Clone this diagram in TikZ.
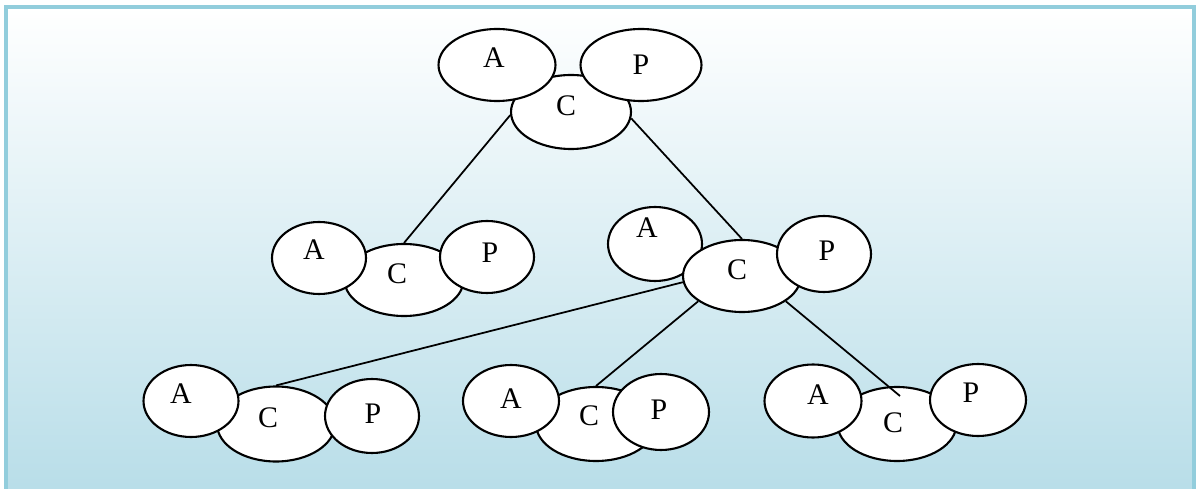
\documentclass[tikz,border=0pt]{standalone}
\usepackage{fontspec}
\setmainfont{Liberation Serif}
\usepackage{tikz}
\usetikzlibrary{shapes}
\definecolor{bordblue}{RGB}{146,205,220}
\definecolor{botblue}{RGB}{183,221,232}
\tikzset{
  ov_e/.style 2 args = {ellipse, draw=black, fill=white, line width=1.2pt,
    inner sep=0pt, minimum width=#1cm, minimum height=#2cm},% ellipse blanche
  ov_t/.style = {inner sep=0pt, font=\fontsize{17}{20}\selectfont},% lettre
  ov_l/.style = {line width=1pt}% trait
}

\begin{document}
\begin{tikzpicture}[x=0.02cm,y=-0.02cm]
\useasboundingbox (0,0) rectangle (1196,489);
\shade[top color=white, bottom color=botblue] (6,7) rectangle (1194,500);
\draw[bordblue, line width=2.2pt] (6,7) rectangle (1194,500);

% haut
\node [ov_e={2.40}{1.48}] (tC) at (571,112) {};
\node [ov_e={2.34}{1.44}] (tA) at (497,65) {};
\node [ov_e={2.42}{1.44}] (tP) at (641,65) {};
\node [ov_t] (tAt) at (494,58) {A};
\node [ov_t] (tCt) at (566,106) {C};
\node [ov_t] (tPt) at (641,65) {P};

% milieu gauche
\node [ov_e={2.38}{1.44}] (mlC) at (404,280) {};
\node [ov_e={1.88}{1.44}] (mlA) at (319,258) {};
\node [ov_e={1.88}{1.44}] (mlP) at (487,257) {};
\node [ov_t] (mlAt) at (314,250) {A};
\node [ov_t] (mlCt) at (397,274) {C};
\node [ov_t] (mlPt) at (490,253) {P};

% milieu droit
\node [ov_e={1.88}{1.48}] (mrA) at (655,244) {};
\node [ov_e={2.36}{1.44}] (mrC) at (742,276) {};
\node [ov_e={1.88}{1.52}] (mrP) at (824,254) {};
\node [ov_t] (mrAt) at (647,228) {A};
\node [ov_t] (mrCt) at (737,270) {C};
\node [ov_t] (mrPt) at (827,251) {P};

% bas gauche
\node [ov_e={2.36}{1.50}] (blC) at (276,424) {};
\node [ov_e={1.90}{1.44}] (blA) at (191,401) {};
\node [ov_e={1.88}{1.48}] (blP) at (372,416) {};
\node [ov_t] (blAt) at (181,394) {A};
\node [ov_t] (blCt) at (268,418) {C};
\node [ov_t] (blPt) at (373,414) {P};

% bas milieu
\node [ov_e={2.40}{1.48}] (bmC) at (596,424) {};
\node [ov_e={1.92}{1.44}] (bmA) at (511,401) {};
\node [ov_e={1.92}{1.52}] (bmP) at (661,412) {};
\node [ov_t] (bmAt) at (511,399) {A};
\node [ov_t] (bmCt) at (589,416) {C};
\node [ov_t] (bmPt) at (659,410) {P};

% bas droit
\node [ov_e={2.38}{1.48}] (brC) at (897,424) {};
\node [ov_e={1.94}{1.46}] (brA) at (813,401) {};
\node [ov_e={1.92}{1.44}] (brP) at (978,400) {};
\node [ov_t] (brAt) at (818,395) {A};
\node [ov_t] (brCt) at (893,423) {C};
\node [ov_t] (brPt) at (971,393) {P};
\coordinate (brCin) at (900,396);

\draw [ov_l] (tC.183) -- (mlC.north);
\draw [ov_l] (tC.-6) -- (mrC.north);
\draw [ov_l] (mrC.186) -- (blC.north);
\draw [ov_l] (mrC.210) -- (bmC.north);
\draw [ov_l] (mrC.-30) -- (brCin);
\end{tikzpicture}
\end{document}
